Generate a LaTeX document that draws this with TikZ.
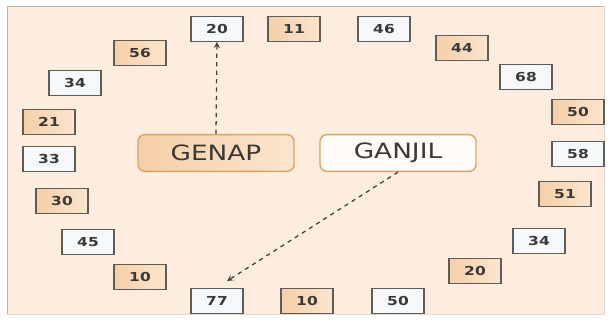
\documentclass[tikz,border=0pt]{standalone}
\usepackage{fontspec}
\setmainfont{DejaVu Sans}
\usetikzlibrary{arrows,positioning}

\definecolor{page}{HTML}{FDEDDF}
\definecolor{frameline}{HTML}{BFB39F}
\definecolor{orfill}{HTML}{F5CFA8}
\definecolor{orfilltwo}{HTML}{FBE5CE}
\definecolor{whfill}{HTML}{F6F9FC}
\definecolor{boxline}{HTML}{5F5B57}
\definecolor{txt}{HTML}{3C3836}
\definecolor{bigline}{HTML}{E0A262}

\newcommand{\numtxt}[1]{\scalebox{1.25}[1]{#1}}
\newcommand{\bigtxt}[1]{\scalebox{1.25}[1]{#1}}

\tikzset{
  numbox/.style={draw=boxline, line width=0.8pt, minimum width=1.3cm,
    minimum height=0.62cm, inner sep=0pt, text=txt,
    font=\fontsize{8.8}{9}\selectfont\bfseries},
  wbox/.style={numbox, fill=whfill},
  obox/.style={numbox, left color=orfill, right color=orfilltwo},
  bigbox/.style={draw=bigline, line width=1pt, rounded corners=5pt,
    minimum width=3.9cm, minimum height=0.92cm, inner sep=0pt, text=txt,
    font=\fontsize{15}{16}\selectfont}
}

\begin{document}
\begin{tikzpicture}[%
>=stealth,
x=0.025cm,
y=-0.025cm
]
\useasboundingbox (0,0) rectangle (614,322);
\fill[white] (0,0) rectangle (614,322);
\fill[page] (7,6) rectangle (604,314);
\draw[frameline, line width=0.7pt] (7,314) -- (7,6) -- (604,6);
\draw[frameline!50, line width=0.6pt] (604,6) -- (604,314) -- (7,314);

% the ring of numbers
\node[wbox] (n20) at (217,29) {\numtxt{20}};
\node[obox] (n11) at (294,29) {\numtxt{11}};
\node[wbox] (n46) at (384,29) {\numtxt{46}};
\node[obox] (n44) at (462,48) {\numtxt{44}};
\node[wbox] (n68) at (526,77) {\numtxt{68}};
\node[obox] (n50) at (578,112) {\numtxt{50}};
\node[wbox] (n58) at (578,154) {\numtxt{58}};
\node[obox] (n51) at (565,194) {\numtxt{51}};
\node[wbox] (n34r) at (539,241) {\numtxt{34}};
\node[obox] (n20b) at (475,271) {\numtxt{20}};
\node[wbox] (n50b) at (398,301) {\numtxt{50}};
\node[obox] (n10b) at (307,301) {\numtxt{10}};
\node[wbox] (n77) at (217,301) {\numtxt{77}};
\node[obox] (n10l) at (140,277) {\numtxt{10}};
\node[wbox] (n45) at (88,242) {\numtxt{45}};
\node[obox] (n30) at (62,201) {\numtxt{30}};
\node[wbox] (n33) at (49,159) {\numtxt{33}};
\node[obox] (n21) at (49,122) {\numtxt{21}};
\node[wbox] (n34) at (75,83) {\numtxt{34}};
\node[obox] (n56) at (140,53) {\numtxt{56}};

% the two labels
\node[bigbox, left color=orfill, right color=orfilltwo] (genap) at (216,153) {\bigtxt{GENAP}};
\node[bigbox, fill=white!80!page] (ganjil) at (398,153) {\bigtxt{GANJIL}};

\coordinate (tip) at (227,281);

% dashed pointers
\path[->] (genap.north) edge [dashed, line width=0.9pt, black!75] (n20.south);
\path[->] (ganjil.south) edge [dashed, line width=0.9pt, black!75] (tip);
\end{tikzpicture}
\end{document}
